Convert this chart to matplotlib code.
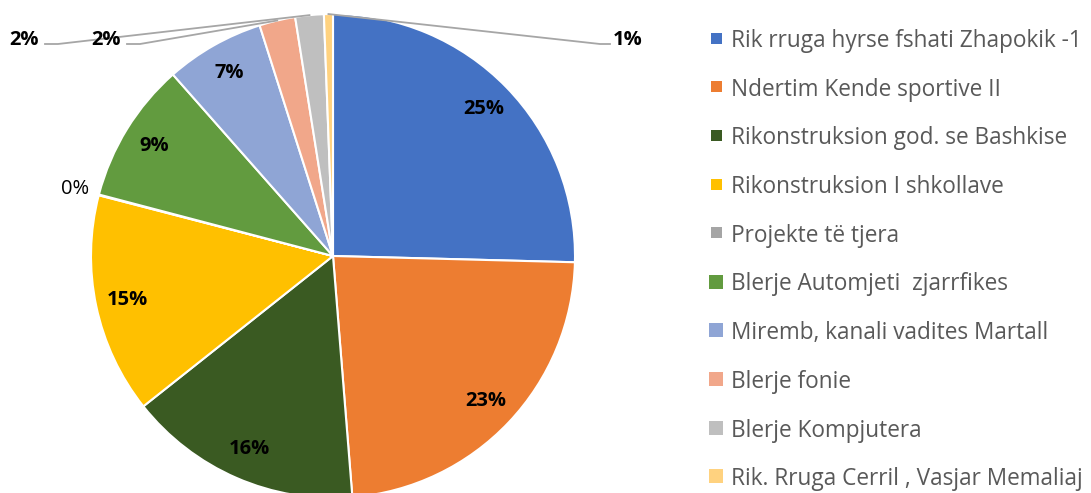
import matplotlib
matplotlib.use('Agg')
import matplotlib.pyplot as plt
import numpy as np
from matplotlib.patches import Rectangle

labels = ['Rik rruga hyrse fshati Zhapokik -1', 'Ndertim Kende sportive II',
          'Rikonstruksion god. se Bashkise', 'Rikonstruksion I shkollave',
          'Projekte të tjera', 'Blerje Automjeti  zjarrfikes',
          'Miremb, kanali vadites Martall', 'Blerje fonie',
          'Blerje Kompjutera', 'Rik. Rruga Cerril , Vasjar Memaliaj']
values = [25.4, 23.3, 15.6, 14.7, 0.05, 9.4, 6.6, 2.4, 1.9, 0.6]
colors = ['#4472C4', '#ED7D31', '#3A5A22', '#FFC000', '#A5A5A5',
          '#629B3F', '#8FA5D5', '#F1A78A', '#BFBFBF', '#FFD27F']
pct_text = ['%.0f%%' % v for v in values]

plt.rcParams['font.family'] = ['Open Sans', 'DejaVu Sans']

W, H = 1091, 493
fig = plt.figure(figsize=(W / 100, H / 100), dpi=100)
cx, cy, r = 333, 256, 242
ax = fig.add_axes([(cx - r) / W, (H - cy - r) / H, 2 * r / W, 2 * r / H])

wedges, _ = ax.pie(values, colors=colors, startangle=90, counterclock=False,
                   wedgeprops=dict(edgecolor='white', linewidth=1.5))
ax.set_xlim(-1, 1)
ax.set_ylim(-1, 1)
ax.axis('off')

def mid(w):
    return np.deg2rad((w.theta1 + w.theta2) / 2)

# labels inside the big slices
for i in [0, 1, 2, 3, 5, 6]:
    a = mid(wedges[i])
    ax.text(0.87 * np.cos(a), 0.87 * np.sin(a), pct_text[i], ha='center', va='center',
            fontsize=14.5, fontweight='bold', color='black')

# 0% label, no leader line
a = mid(wedges[4])
ax.text(1.1 * np.cos(a), 1.1 * np.sin(a), pct_text[4], ha='center', va='center',
        fontsize=14.5, color='black')

# small slices with leader lines: (index, label x, elbow start x, elbow end x)
px = lambda p: (p - cx) / r
ly = (cy - 40) / r
line_y = (cy - 44) / r
outside = [(8, 24, 45, 58), (7, 106, 127, 140), (9, 628, 610, 600)]
for i, tx, x0, x1 in outside:
    a = mid(wedges[i])
    ax.plot([px(x0), px(x1), np.cos(a)], [line_y, line_y, np.sin(a)],
            color='#A6A6A6', lw=1.3, clip_on=False)
    ax.text(px(tx), ly, pct_text[i], ha='center', va='center',
            fontsize=14.5, fontweight='bold', color='black', clip_on=False)

# legend
for i, (lab, c) in enumerate(zip(labels, colors)):
    yc = 38 + i * 48.7
    s = 11 if i < 5 else 14
    fig.patches.append(Rectangle(((716 - s / 2) / W, (H - yc - s / 2) / H), s / W, s / H,
                                 transform=fig.transFigure, facecolor=c, edgecolor='none'))
    fig.text(731 / W, (H - yc) / H, lab, ha='left', va='center_baseline',
             fontsize=16.3, color='#595959')

fig.savefig('out.png', dpi=100)
